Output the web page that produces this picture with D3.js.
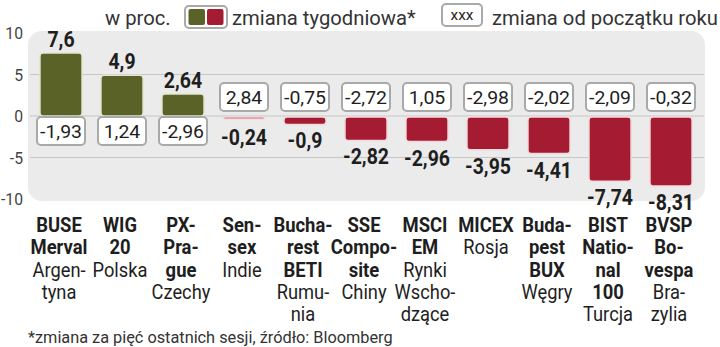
<!DOCTYPE html>
<html>
<head>
<meta charset="utf-8">
<script src="https://cdn.jsdelivr.net/npm/d3@7"></script>
<style>
  html, body { margin: 0; padding: 0; background: #fff; }
  svg { display: block; font-family: Roboto, "DejaVu Sans", sans-serif; }
</style>
</head>
<body>
<svg id="chart" width="720" height="347"></svg>
<script>
const categories = ['BUSE Merval', 'WIG 20', 'PX-Prague', 'Sensex', 'Bucharest BETI', 'SSE Composite',
  'MSCI EM', 'MICEX', 'Budapest BUX', 'BIST National 100', 'BVSP Bovespa'];
// label lines: index name (bold) then country (regular)
const nameLines = [
  ['BUSE', 'Merval'], ['WIG', '20'], ['PX-', 'Pra-', 'gue'], ['Sen-', 'sex'], ['Bucha-', 'rest', 'BETI'],
  ['SSE', 'Compo-', 'site'], ['MSCI', 'EM'], ['MICEX'], ['Buda-', 'pest', 'BUX'], ['BIST', 'Natio-', 'nal', '100'],
  ['BVSP', 'Bo-', 'vespa']
];
const countryLines = [
  ['Argen-', 'tyna'], ['Polska'], ['Czechy'], ['Indie'], ['Rumu-', 'nia'], ['Chiny'], ['Rynki', 'Wscho-', 'dzące'],
  ['Rosja'], ['Węgry'], ['Turcja'], ['Bra-', 'zylia']
];
const weeklyChange = [7.6, 4.9, 2.64, -0.24, -0.9, -2.82, -2.96, -3.95, -4.41, -7.74, -8.31];
const ytdChange = [-1.93, 1.24, -2.96, 2.84, -0.75, -2.72, 1.05, -2.98, -2.02, -2.09, -0.32];
const yTicks = [10, 5, 0, -5, -10];

const fmt = v => String(v).replace('.', ',');
const green = '#5b6227';
const red = '#a51b31';
const ink = '#1e1e1e';

const svg = d3.select('#chart');

// measure a sample string so text can be squeezed to the narrow look of the original
function squeeze(sample, size, weight, target) {
  const t = svg.append('text').attr('font-size', size).attr('font-weight', weight).text(sample);
  const w = t.node().getComputedTextLength();
  t.remove();
  return target / w;
}
const kBold = squeeze('Merval', 20, 'bold', 57);
const kReg = squeeze('Polska', 20, 'normal', 55);
const kVal = squeeze('-8,31', 22, 'bold', 46);
const kBox = squeeze('-1,93', 19, 'normal', 42);
const kLeg = squeeze('zmiana od początku roku', 20, 'normal', 226);
const kFoot = squeeze('*zmiana za pięć ostatnich sesji, źródło: Bloomberg', 17, 'normal', 365);
const kAxis = squeeze('-10', 17, 'normal', 22);

function put(g, px, py, k) {
  return g.append('text').attr('transform', `translate(${px},${py}) scale(${k},1)`);
}

const x = d3.scaleBand()
  .domain(categories)
  .range([30.5, 701.5])
  .paddingInner(0.31)
  .paddingOuter(0.155);

const y = d3.scaleLinear()
  .domain([-10, 10])
  .range([199, 33]);

// grey panel
svg.append('rect')
  .attr('x', 28).attr('y', 31)
  .attr('width', 677).attr('height', 170)
  .attr('rx', 14)
  .attr('fill', '#ebebeb');

// grid lines
svg.append('g')
  .selectAll('line')
  .data([5, 0, -5])
  .enter().append('line')
  .attr('x1', 30).attr('x2', 704)
  .attr('y1', d => y(d)).attr('y2', d => y(d))
  .attr('stroke', '#c6c6c6')
  .attr('stroke-width', 1);

// y axis labels
const axisG = svg.append('g');
yTicks.forEach(v => {
  put(axisG, 23, y(v) + 6, kAxis)
    .attr('text-anchor', 'end')
    .attr('font-size', 17)
    .attr('fill', '#444')
    .text(v);
});

const data = categories.map((c, i) => ({
  cat: c,
  weekly: weeklyChange[i],
  ytd: ytdChange[i],
  names: nameLines[i],
  countries: countryLines[i]
}));

const bw = x.bandwidth();

// weekly bars
svg.append('g')
  .selectAll('rect')
  .data(data)
  .enter().append('rect')
  .attr('x', d => x(d.cat))
  .attr('width', bw)
  .attr('y', d => d.weekly > 0 ? y(d.weekly) : y(0) + 1)
  .attr('height', d => Math.max(2, Math.abs(y(d.weekly) - y(0))))
  .attr('rx', 3)
  .attr('fill', d => d.weekly > 0 ? green : red)
  .attr('stroke', d => d.weekly > 0 ? '#e4e6d2' : '#f3dadd')
  .attr('stroke-width', 1.5);

// weekly value labels
const valG = svg.append('g');
data.forEach(d => {
  const py = d.weekly > 0 ? y(d.weekly) - 6 : Math.max(y(d.weekly), y(0) + 4) + 25;
  put(valG, x(d.cat) + bw / 2, py, kVal)
    .attr('text-anchor', 'middle')
    .attr('font-size', 22)
    .attr('font-weight', 'bold')
    .attr('fill', ink)
    .text(fmt(d.weekly));
});

// year-to-date boxes
const boxW = 48, boxH = 28;
const boxG = svg.append('g');
data.forEach(d => {
  const g = boxG.append('g')
    .attr('transform', `translate(${x(d.cat) + bw / 2},${d.weekly > 0 ? y(0) + 1 : y(0) - 33})`);
  g.append('rect')
    .attr('x', -boxW / 2)
    .attr('width', boxW)
    .attr('height', boxH)
    .attr('rx', 4)
    .attr('fill', '#fff')
    .attr('stroke', '#a9a9a9')
    .attr('stroke-width', 2);
  put(g, 0, 21, kBox)
    .attr('text-anchor', 'middle')
    .attr('font-size', 19)
    .attr('fill', ink)
    .text(fmt(d.ytd));
});

// category labels
const lineH = 22.3;
const labG = svg.append('g');
data.forEach(d => {
  const cx = x(d.cat) + bw / 2 - 2;
  const lines = d.names.map(s => ({ s, b: true })).concat(d.countries.map(s => ({ s, b: false })));
  lines.forEach((l, i) => {
    put(labG, cx, 232 + i * lineH, l.b ? kBold : kReg)
      .attr('text-anchor', 'middle')
      .attr('font-size', 20)
      .attr('font-weight', l.b ? 'bold' : 'normal')
      .attr('fill', ink)
      .text(l.s);
  });
});

// legend
const legend = svg.append('g').attr('fill', '#333');
put(legend, 105, 25, kLeg).attr('font-size', 20).text('w proc.');
legend.append('rect').attr('x', 185).attr('y', 6).attr('width', 42).attr('height', 22).attr('rx', 4)
  .attr('fill', '#fff').attr('stroke', '#a9a9a9').attr('stroke-width', 2);
legend.append('rect').attr('x', 188.5).attr('y', 9).attr('width', 16.5).attr('height', 16).attr('rx', 2).attr('fill', green);
legend.append('rect').attr('x', 207).attr('y', 9).attr('width', 16.5).attr('height', 16).attr('rx', 2).attr('fill', red);
put(legend, 232, 25, kLeg).attr('font-size', 20).text('zmiana tygodniowa*');
legend.append('rect').attr('x', 442).attr('y', 4).attr('width', 40).attr('height', 22).attr('rx', 4)
  .attr('fill', '#fff').attr('stroke', '#a9a9a9').attr('stroke-width', 2);
put(legend, 462, 20, kBox).attr('text-anchor', 'middle').attr('font-size', 15)
  .attr('fill', ink).text('xxx');
put(legend, 492, 25, kLeg).attr('font-size', 20).text('zmiana od początku roku');

// footer
put(svg, 28, 343, kFoot)
  .attr('font-size', 17)
  .attr('fill', '#333')
  .text('*zmiana za pięć ostatnich sesji, źródło: Bloomberg');
</script>
</body>
</html>
